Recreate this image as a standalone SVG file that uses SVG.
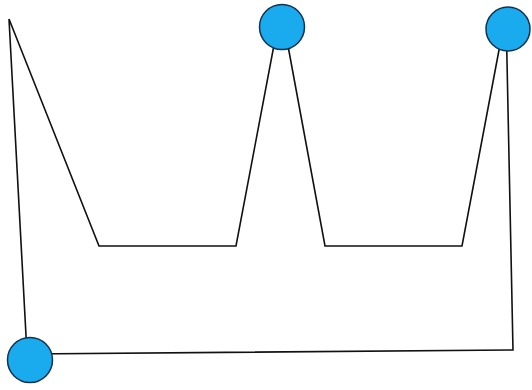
<svg xmlns="http://www.w3.org/2000/svg" width="532" height="390" viewBox="0 0 532 390">
<style>
.edge{fill:none;stroke:#111;stroke-width:1.6;stroke-linejoin:miter}
.dot{fill:#19abee;stroke:#14324f;stroke-width:1.5}
</style>
<rect width="532" height="390" fill="#fff"/>
<g id="connectors">
<polyline class="edge" points="9,19 99,246 236,246 281,8 325,246 462,246 506,13 513,350 27,354 9,19"/>
</g>
<g id="node-top-middle"><circle class="dot" cx="282" cy="27" r="22.5"/></g>
<g id="node-top-right"><circle class="dot" cx="508" cy="29" r="22"/></g>
<g id="node-bottom-left"><circle class="dot" cx="30" cy="360" r="22.5"/></g>
</svg>
